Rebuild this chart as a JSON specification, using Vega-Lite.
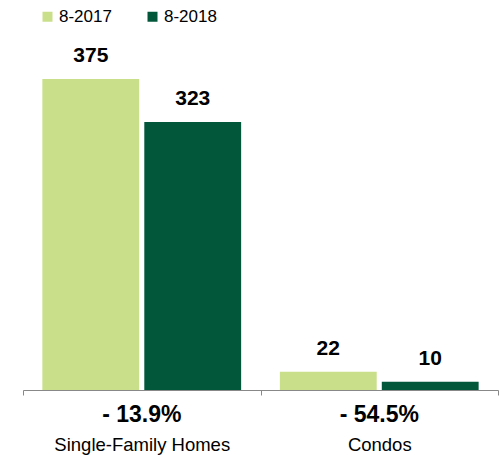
{
  "$schema": "https://vega.github.io/schema/vega-lite/v6.json",
  "autosize": "none",
  "width": 475,
  "height": 350,
  "padding": {"left": 23, "top": 40, "right": 1, "bottom": 65},
  "background": "white",
  "config": {"view": {"stroke": null}, "font": "Liberation Sans"},
  "data": {"values": [
    {"category": "Single-Family Homes", "period": "8-2017", "value": 375, "change": "- 13.9%"},
    {"category": "Single-Family Homes", "period": "8-2018", "value": 323, "change": "- 13.9%"},
    {"category": "Condos", "period": "8-2017", "value": 22, "change": "- 54.5%"},
    {"category": "Condos", "period": "8-2018", "value": 10, "change": "- 54.5%"}
  ]},
  "encoding": {
    "x": {"field": "category", "type": "nominal", "sort": ["Single-Family Homes", "Condos"],
      "scale": {"paddingInner": 0, "paddingOuter": 0},
      "axis": {"title": null, "tickBand": "extent", "domainColor": "#888888", "tickColor": "#888888", "tickSize": 5, "labelFontSize": 18.5, "labelColor": "#000000", "labelPadding": 40, "labelAngle": 0}
    }
  },
  "layer": [
    {
      "mark": {"type": "bar"},
      "encoding": {
        "xOffset": {"field": "period", "type": "nominal", "scale": {"paddingInner": 0.05, "paddingOuter": 0.19}},
        "y": {"field": "value", "type": "quantitative", "scale": {"domain": [0, 422], "nice": false}, "axis": null},
        "color": {"field": "period", "type": "nominal",
          "scale": {"domain": ["8-2017", "8-2018"], "range": ["#c9df8a", "#02563a"]},
          "legend": {"title": null, "orient": "none", "direction": "horizontal", "legendX": 16, "legendY": -32, "symbolType": "square", "symbolSize": 100, "symbolStrokeWidth": 0, "labelFontSize": 17, "labelColor": "#000000", "columnPadding": 32, "labelOffset": 3}
        }
      }
    },
    {
      "mark": {"type": "text", "fontWeight": "bold", "fontSize": 21, "baseline": "bottom", "dy": -13, "color": "#000000"},
      "encoding": {
        "xOffset": {"field": "period", "type": "nominal", "scale": {"paddingInner": 0.05, "paddingOuter": 0.19}},
        "y": {"field": "value", "type": "quantitative"},
        "text": {"field": "value", "type": "quantitative"}
      }
    },
    {
      "transform": [{"filter": "datum.period === '8-2017'"}],
      "mark": {"type": "text", "fontWeight": "bold", "fontSize": 23, "baseline": "top", "dy": 14, "color": "#000000"},
      "encoding": {
        "y": {"datum": 0, "type": "quantitative"},
        "text": {"field": "change", "type": "nominal"}
      }
    }
  ]
}
